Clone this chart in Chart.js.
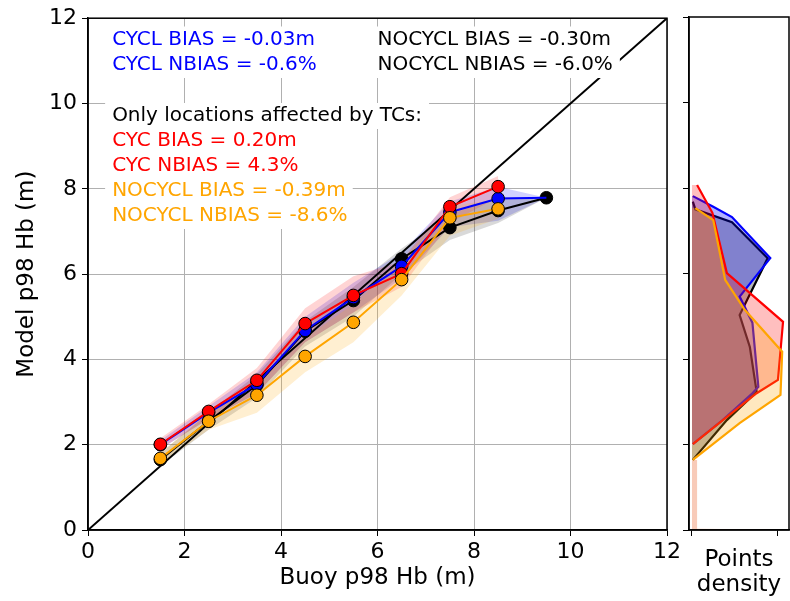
<!DOCTYPE html>
<html>
<head>
  <meta charset="UTF-8">
  <script src="https://cdn.jsdelivr.net/npm/chart.js"></script>
  <title>p98 Hb</title>
  <style>
    body { margin: 0; background: #fff; }
    #wrapper { position: relative; width: 790px; height: 601px; }
    #main { position: absolute; left: 0; top: 0; }
    #density { position: absolute; left: 680px; top: 0; }
  </style>
</head>
<body>
<div id="wrapper">
  <canvas id="main" width="690" height="601"></canvas>
  <canvas id="density" width="110" height="601"></canvas>
</div>

<script>
// buoy bins (x) and model p98 Hb per bin
const allBins = [1.5, 2.5, 3.5, 4.5, 5.5, 6.5, 7.5, 8.5, 9.5];
const tcBins = [1.5, 2.5, 3.5, 4.5, 5.5, 6.5, 7.5, 8.5];

const cyclModel = [2.00, 2.75, 3.42, 4.68, 5.45, 6.18, 7.45, 7.77, 7.79];
const cyclLow = [1.90, 2.60, 3.20, 4.40, 5.10, 5.90, 7.10, 7.25, 7.79];
const cyclHigh = [2.10, 2.90, 3.70, 5.00, 5.80, 6.50, 7.70, 8.05, 7.79];

const nocyclModel = [1.65, 2.55, 3.40, 4.66, 5.38, 6.36, 7.09, 7.49, 7.79];
const nocyclLow = [1.50, 2.35, 3.10, 4.30, 5.00, 6.00, 6.80, 7.20, 7.79];
const nocyclHigh = [1.80, 2.75, 3.65, 4.90, 5.70, 6.60, 7.40, 7.80, 7.79];

const cycTcModel = [2.01, 2.78, 3.51, 4.84, 5.50, 6.01, 7.58, 8.05];
const cycTcLow = [1.90, 2.60, 3.20, 4.40, 5.10, 5.70, 7.20, 7.80];
const cycTcHigh = [2.15, 2.95, 3.80, 5.20, 5.95, 6.30, 7.80, 8.30];

const nocyclTcModel = [1.68, 2.55, 3.16, 4.07, 4.87, 5.87, 7.32, 7.53];
const nocyclTcLow = [1.55, 2.35, 2.75, 3.70, 4.40, 5.50, 6.90, 7.30];
const nocyclTcHigh = [1.80, 2.75, 3.50, 4.50, 5.30, 6.30, 7.60, 7.75];

const oneToOne = [0, 12];
const axisTicks = [0, 2, 4, 6, 8, 10, 12];

// points density (right panel): Hb levels and density values
const cyclDensHb = [7.81, 7.56, 7.32, 6.36, 5.46, 4.85, 3.35, 3.20, 2.57, 2.01];
const cyclDens = [0.01, 0.25, 0.47, 0.92, 0.56, 0.71, 0.78, 0.71, 0.36, 0.01];
const nocyclDensHb = [7.68, 7.50, 7.20, 6.36, 5.03, 4.28, 3.23, 2.57, 1.64];
const nocyclDens = [0.01, 0.04, 0.47, 0.89, 0.56, 0.68, 0.76, 0.41, 0.01];
const cycTcDensHb = [8.07, 7.42, 6.01, 4.87, 3.51, 3.20, 2.01];
const cycTcDens = [0.06, 0.24, 0.41, 1.07, 1.01, 0.76, 0.01];
const nocyclTcDensHb = [7.53, 7.25, 5.85, 5.15, 4.17, 3.16, 2.50, 1.64];
const nocyclTcDens = [0.04, 0.25, 0.39, 0.62, 1.06, 1.04, 0.56, 0.01];
const tailDensHb = [1.64, 0.03, 0.01];
const tailDens = [0.06, 0.06, 0.97];
const densityTicks = [0, 1];

const statsAll = [
  ['CYCL BIAS = -0.03m', 'CYCL NBIAS = -0.6%'],
  ['NOCYCL BIAS = -0.30m', 'NOCYCL NBIAS = -6.0%']
];
const statsTc = [
  ['Only locations affected by TCs:', '#000000'],
  ['CYC BIAS = 0.20m', '#ff0000'],
  ['CYC NBIAS = 4.3%', '#ff0000'],
  ['NOCYCL BIAS = -0.39m', '#ffa500'],
  ['NOCYCL NBIAS = -8.6%', '#ffa500']
];

const FONT = 'DejaVu Sans';

function pts(xs, ys) {
  return xs.map((x, i) => ({x: x, y: ys[i]}));
}

function band(xs, lo, hi, color, order) {
  return [
    {data: pts(xs, lo), borderWidth: 0, pointRadius: 0, fill: false, order: order},
    {data: pts(xs, hi), borderWidth: 0, pointRadius: 0, fill: '-1', backgroundColor: color, order: order}
  ];
}

function series(xs, ys, color, order) {
  return {
    data: pts(xs, ys), borderColor: color, borderWidth: 2, fill: false,
    pointRadius: 6.3, pointBackgroundColor: color, pointBorderColor: '#000', pointBorderWidth: 1,
    order: order
  };
}

const frame = {
  id: 'frame',
  afterDraw(chart) {
    const a = chart.chartArea, ctx = chart.ctx;
    ctx.save();
    ctx.strokeStyle = '#000';
    ctx.lineWidth = 1.5;
    ctx.strokeRect(a.left, a.top, a.right - a.left, a.bottom - a.top);
    ctx.restore();
  }
};

const labels = {
  id: 'labels',
  afterDatasetsDraw(chart) {
    const ctx = chart.ctx, xs = chart.scales.x;
    ctx.save();
    ctx.font = '20px "' + FONT + '"';
    ctx.textBaseline = 'middle';
    const box = (txt, x, y, color) => {
      const w = ctx.measureText(txt).width;
      ctx.fillStyle = '#fff';
      ctx.fillRect(x - 7, y - 13, w + 14, 26);
      ctx.fillStyle = color;
      ctx.fillText(txt, x, y);
    };
    const topRows = [39.5, 65];
    statsAll[0].forEach((t, i) => box(t, xs.getPixelForValue(0.5), topRows[i], '#0000ff'));
    statsAll[1].forEach((t, i) => box(t, xs.getPixelForValue(6), topRows[i], '#000'));
    statsTc.forEach((r, i) => box(r[0], xs.getPixelForValue(0.5), 116 + 25 * i, r[1]));
    ctx.restore();
  }
};

const tickFont = {family: FONT, size: 22};
const titleFont = {family: FONT, size: 23};

// the blue (CYCL) line runs to the last bin, where the black marker sits on top
const cyclSeries = series(allBins, cyclModel, '#0000ff', 3);
cyclSeries.pointRadius = allBins.map((b, i) => (i === allBins.length - 1 ? 0 : 6.3));

new Chart(document.getElementById('main'), {
  type: 'line',
  data: {
    datasets: [
      ...band(allBins, cyclLow, cyclHigh, 'rgba(0,0,255,0.18)', 30),
      ...band(allBins, nocyclLow, nocyclHigh, 'rgba(0,0,0,0.15)', 28),
      ...band(tcBins, cycTcLow, cycTcHigh, 'rgba(255,0,0,0.17)', 26),
      ...band(tcBins, nocyclTcLow, nocyclTcHigh, 'rgba(255,165,0,0.18)', 24),
      {data: pts(oneToOne, oneToOne), borderColor: '#000', borderWidth: 2, pointRadius: 0, fill: false, order: 15},
      series(allBins, nocyclModel, '#000000', 4),
      cyclSeries,
      series(tcBins, cycTcModel, '#ff0000', 2),
      series(tcBins, nocyclTcModel, '#ffa500', 1)
    ]
  },
  options: {
    responsive: false,
    animation: false,
    events: [],
    layout: {padding: {top: 17, right: 23, left: 0, bottom: 0}},
    plugins: {legend: {display: false}, tooltip: {enabled: false}},
    scales: {
      x: {
        type: 'linear', min: 0, max: 12,
        afterBuildTicks(s) { s.ticks = axisTicks.map(v => ({value: v})); },
        ticks: {color: '#000', font: tickFont, padding: 3, maxRotation: 0},
        grid: {color: '#b0b0b0', tickColor: '#000', tickLength: 6},
        border: {color: '#000', width: 1.5},
        title: {display: true, text: 'Buoy p98 Hb (m)', color: '#000', font: titleFont, padding: {bottom: 9}},
        afterFit(s) { s.height = 71; }
      },
      y: {
        type: 'linear', min: 0, max: 12,
        afterBuildTicks(s) { s.ticks = axisTicks.map(v => ({value: v})); },
        ticks: {color: '#000', font: tickFont, padding: 5},
        grid: {color: '#b0b0b0', tickColor: '#000', tickLength: 6},
        border: {color: '#000', width: 1.5},
        title: {display: true, text: 'Model p98 Hb (m)', color: '#000', font: titleFont, padding: {top: 13}},
        afterFit(s) { s.width = 88; }
      }
    }
  },
  plugins: [labels, frame]
});

function dens(xs, ys, color, fillColor, order) {
  return {
    data: pts(xs, ys), borderColor: color, borderWidth: 2.2, pointRadius: 0,
    fill: 'origin', backgroundColor: fillColor, order: order
  };
}

new Chart(document.getElementById('density'), {
  type: 'line',
  data: {
    datasets: [
      {data: pts(tailDens, tailDensHb), borderWidth: 0, pointRadius: 0, fill: 'origin',
       backgroundColor: 'rgba(240,140,100,0.45)', order: 10},
      dens(nocyclDens, nocyclDensHb, '#000000', 'rgba(0,0,0,0.28)', 8),
      dens(cyclDens, cyclDensHb, '#0000ff', 'rgba(0,0,255,0.3)', 7),
      dens(cycTcDens, cycTcDensHb, '#ff0000', 'rgba(255,0,0,0.25)', 6),
      dens(nocyclTcDens, nocyclTcDensHb, '#ffa500', 'rgba(255,165,0,0.25)', 5)
    ]
  },
  options: {
    indexAxis: 'y',
    responsive: false,
    animation: false,
    events: [],
    layout: {padding: {top: 17, right: 1, left: 0, bottom: 0}},
    plugins: {legend: {display: false}, tooltip: {enabled: false}},
    scales: {
      x: {
        type: 'linear', min: -0.035, max: 1.14,
        afterBuildTicks(s) { s.ticks = densityTicks.map(v => ({value: v})); },
        ticks: {callback: () => '', font: tickFont, padding: 3},
        grid: {drawOnChartArea: false, tickColor: '#000', tickLength: 6},
        border: {color: '#000', width: 1.5},
        title: {display: true, text: ['Points', 'density'], color: '#000',
                font: {family: FONT, size: 23, lineHeight: 1.087}, padding: {bottom: 3}},
        afterFit(s) { s.height = 71; }
      },
      y: {
        type: 'linear', min: 0, max: 12,
        afterBuildTicks(s) { s.ticks = axisTicks.map(v => ({value: v})); },
        ticks: {callback: () => ''},
        grid: {drawOnChartArea: false, tickColor: '#000', tickLength: 6},
        border: {color: '#000', width: 1.5},
        afterFit(s) { s.width = 9; }
      }
    }
  },
  plugins: [frame]
});
</script>
</body>
</html>
